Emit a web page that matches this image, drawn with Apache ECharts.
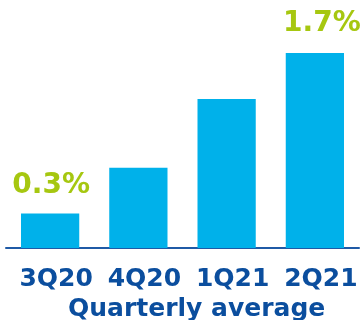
<!DOCTYPE html>
<html>
<head>
<meta charset="utf-8">
<script src="https://cdn.jsdelivr.net/npm/echarts@6/dist/echarts.min.js"></script>
<style>
  html, body { margin: 0; padding: 0; background: #ffffff; }
  #chart { width: 364px; height: 320px; }
</style>
</head>
<body>
<div id="chart"></div>
<script>
// Quarterly averages, in percent
const quarters = ['3Q20', '4Q20', '1Q21', '2Q21'];
const averages = [0.3, 0.7, 1.3, 1.7];
// Only the first and last bars carry a value label
const labelledIndex = [0, 3];
const axisTitle = 'Quarterly average';

const barBlue = '#00b1ea';
const labelGreen = '#a6c710';
const textBlue = '#0b4e9e';
const fontFamily = '"DejaVu Sans", sans-serif';

const chart = echarts.init(document.getElementById('chart'), null, { renderer: 'canvas' });

chart.setOption({
  animation: false,
  grid: { left: 6, right: 5, top: 53, bottom: 72, containLabel: false },
  xAxis: {
    type: 'category',
    data: quarters,
    axisLine: { show: true, lineStyle: { color: '#1f5aa6', width: 2 } },
    axisTick: { show: false },
    axisLabel: {
      interval: 0,
      hideOverlap: false,
      color: textBlue,
      fontFamily: fontFamily,
      fontWeight: 'bold',
      fontSize: 25,
      margin: 19,
      padding: [0, 0, 0, 12]
    }
  },
  yAxis: {
    type: 'value',
    min: 0,
    max: 1.7,
    show: false,
    splitLine: { show: false }
  },
  series: [{
    type: 'bar',
    data: averages.map((v, i) => ({
      value: v,
      label: {
        show: labelledIndex.includes(i),
        // the last label sits a little to the right, near the chart edge
        offset: i === averages.length - 1 ? [7, -1] : [1, 0]
      }
    })),
    barWidth: '66%',
    itemStyle: { color: barBlue },
    label: {
      position: 'top',
      distance: 14,
      color: labelGreen,
      fontFamily: fontFamily,
      fontWeight: 'bold',
      fontSize: 28,
      formatter: p => p.value.toFixed(1) + '%'
    }
  }],
  graphic: [{
    type: 'text',
    left: 68,
    top: 297,
    style: {
      text: axisTitle,
      fill: textBlue,
      font: 'bold 25px "DejaVu Sans", sans-serif'
    }
  }]
});
</script>
</body>
</html>
